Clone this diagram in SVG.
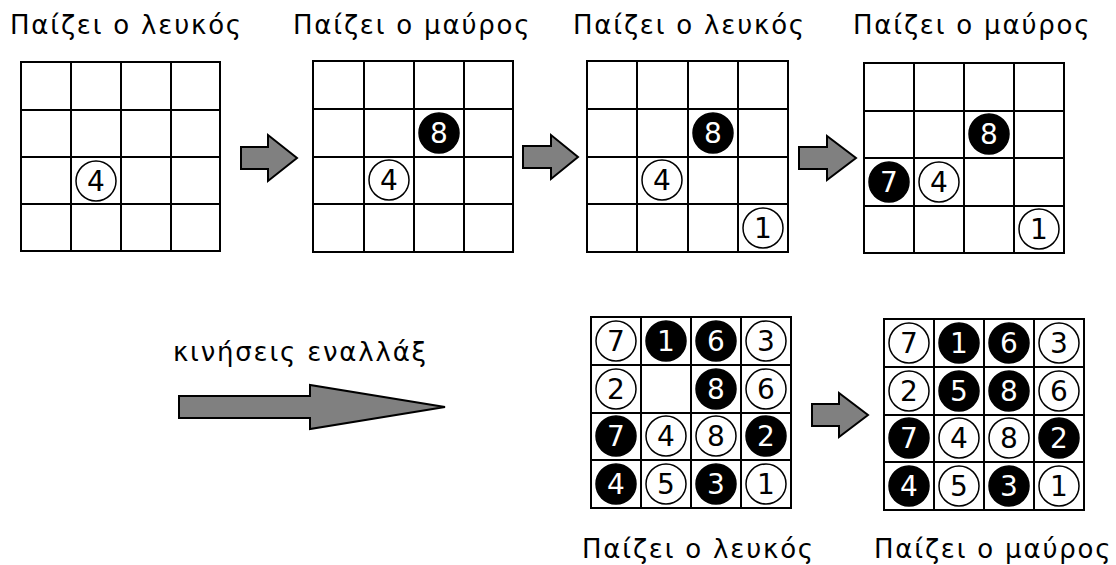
<svg xmlns="http://www.w3.org/2000/svg" width="1116" height="565" viewBox="0 0 1116 565">
<style>
.t{font-family:"DejaVu Sans","Noto Sans",sans-serif;font-size:26px;letter-spacing:1.8px;fill:#000}
.g{fill:none;stroke:#000;stroke-width:2}
.w{fill:#fff;stroke:#000;stroke-width:1.5}
.b{fill:#000;stroke:#000;stroke-width:1.5}
.dw{font-family:"DejaVu Sans",sans-serif;font-size:28px;text-anchor:middle;fill:#000}
.db{font-family:"DejaVu Sans",sans-serif;font-size:28px;text-anchor:middle;fill:#fff}
.ar{fill:#808080;stroke:#000;stroke-width:2;stroke-linejoin:miter}
</style>
<rect width="1116" height="565" fill="#fff"/>

<g id="labels">
<text class="t" x="10" y="34">Παίζει ο λευκός</text>
<text class="t" x="293" y="34">Παίζει ο μαύρος</text>
<text class="t" x="573" y="34">Παίζει ο λευκός</text>
<text class="t" x="853" y="34">Παίζει ο μαύρος</text>
<text class="t" x="173" y="361">κινήσεις εναλλάξ</text>
<text class="t" x="582" y="558">Παίζει ο λευκός</text>
<text class="t" x="874" y="558">Παίζει ο μαύρος</text>
</g>

<g id="board1">
<rect class="g" x="21" y="62" width="199" height="189"/>
<path class="g" d="M71,62V251M121,62V251M171,62V251M21,110H220M21,157H220M21,204H220"/>
<circle class="w" cx="96" cy="181" r="20"/><text class="dw" x="96" y="191">4</text>
</g>

<g id="board2">
<rect class="g" x="313" y="61" width="200" height="191"/>
<path class="g" d="M364,61V252M414,61V252M464,61V252M313,109H513M313,157H513M313,204H513"/>
<circle class="b" cx="439" cy="133" r="20"/><text class="db" x="439" y="143">8</text>
<circle class="w" cx="389" cy="180" r="20"/><text class="dw" x="389" y="190">4</text>
</g>

<g id="board3">
<rect class="g" x="587" y="61" width="201" height="191"/>
<path class="g" d="M637,61V252M688,61V252M738,61V252M587,109H788M587,157H788M587,204H788"/>
<circle class="b" cx="713" cy="133" r="20"/><text class="db" x="713" y="143">8</text>
<circle class="w" cx="662" cy="180" r="20"/><text class="dw" x="662" y="190">4</text>
<circle class="w" cx="763" cy="228" r="20"/><text class="dw" x="763" y="238">1</text>
</g>

<g id="board4">
<rect class="g" x="864" y="63" width="200" height="190"/>
<path class="g" d="M914,63V253M964,63V253M1014,63V253M864,111H1064M864,158H1064M864,206H1064"/>
<circle class="b" cx="989" cy="134" r="20"/><text class="db" x="989" y="144">8</text>
<circle class="b" cx="889" cy="182" r="20"/><text class="db" x="889" y="192">7</text>
<circle class="w" cx="939" cy="182" r="20"/><text class="dw" x="939" y="192">4</text>
<circle class="w" cx="1039" cy="229" r="20"/><text class="dw" x="1039" y="239">1</text>
</g>

<g id="board5">
<rect class="g" x="591" y="317" width="200" height="191"/>
<path class="g" d="M641,317V508M691,317V508M741,317V508M591,365H791M591,413H791M591,460H791"/>
<circle class="w" cx="616" cy="341" r="20"/><text class="dw" x="616" y="351">7</text>
<circle class="b" cx="666" cy="341" r="20"/><text class="db" x="666" y="351">1</text>
<circle class="b" cx="716" cy="341" r="20"/><text class="db" x="716" y="351">6</text>
<circle class="w" cx="766" cy="341" r="20"/><text class="dw" x="766" y="351">3</text>
<circle class="w" cx="616" cy="389" r="20"/><text class="dw" x="616" y="399">2</text>
<circle class="b" cx="716" cy="389" r="20"/><text class="db" x="716" y="399">8</text>
<circle class="w" cx="766" cy="389" r="20"/><text class="dw" x="766" y="399">6</text>
<circle class="b" cx="616" cy="436" r="20"/><text class="db" x="616" y="446">7</text>
<circle class="w" cx="666" cy="436" r="20"/><text class="dw" x="666" y="446">4</text>
<circle class="w" cx="716" cy="436" r="20"/><text class="dw" x="716" y="446">8</text>
<circle class="b" cx="766" cy="436" r="20"/><text class="db" x="766" y="446">2</text>
<circle class="b" cx="616" cy="484" r="20"/><text class="db" x="616" y="494">4</text>
<circle class="w" cx="666" cy="484" r="20"/><text class="dw" x="666" y="494">5</text>
<circle class="b" cx="716" cy="484" r="20"/><text class="db" x="716" y="494">3</text>
<circle class="w" cx="766" cy="484" r="20"/><text class="dw" x="766" y="494">1</text>
</g>

<g id="board6">
<rect class="g" x="884" y="319" width="200" height="191"/>
<path class="g" d="M934,319V510M984,319V510M1034,319V510M884,367H1084M884,415H1084M884,462H1084"/>
<circle class="w" cx="909" cy="343" r="20"/><text class="dw" x="909" y="353">7</text>
<circle class="b" cx="959" cy="343" r="20"/><text class="db" x="959" y="353">1</text>
<circle class="b" cx="1009" cy="343" r="20"/><text class="db" x="1009" y="353">6</text>
<circle class="w" cx="1059" cy="343" r="20"/><text class="dw" x="1059" y="353">3</text>
<circle class="w" cx="909" cy="391" r="20"/><text class="dw" x="909" y="401">2</text>
<circle class="b" cx="959" cy="391" r="20"/><text class="db" x="959" y="401">5</text>
<circle class="b" cx="1009" cy="391" r="20"/><text class="db" x="1009" y="401">8</text>
<circle class="w" cx="1059" cy="391" r="20"/><text class="dw" x="1059" y="401">6</text>
<circle class="b" cx="909" cy="438" r="20"/><text class="db" x="909" y="448">7</text>
<circle class="w" cx="959" cy="438" r="20"/><text class="dw" x="959" y="448">4</text>
<circle class="w" cx="1009" cy="438" r="20"/><text class="dw" x="1009" y="448">8</text>
<circle class="b" cx="1059" cy="438" r="20"/><text class="db" x="1059" y="448">2</text>
<circle class="b" cx="909" cy="486" r="20"/><text class="db" x="909" y="496">4</text>
<circle class="w" cx="959" cy="486" r="20"/><text class="dw" x="959" y="496">5</text>
<circle class="b" cx="1009" cy="486" r="20"/><text class="db" x="1009" y="496">3</text>
<circle class="w" cx="1059" cy="486" r="20"/><text class="dw" x="1059" y="496">1</text>
</g>

<g id="connectors">
<polygon class="ar" points="241,147 268,147 268,135 297,158 268,181 268,169 241,169"/>
<polygon class="ar" points="523,146 551,146 551,135 578,157 551,179 551,168 523,168"/>
<polygon class="ar" points="799,147 827,147 827,136 856,158 827,180 827,169 799,169"/>
<polygon class="ar" points="812,404 839,404 839,393 868,415 839,437 839,426 812,426"/>
<polygon class="ar" points="179,396 310,396 310,385 445,407 310,429 310,418 179,418"/>
</g>
</svg>
